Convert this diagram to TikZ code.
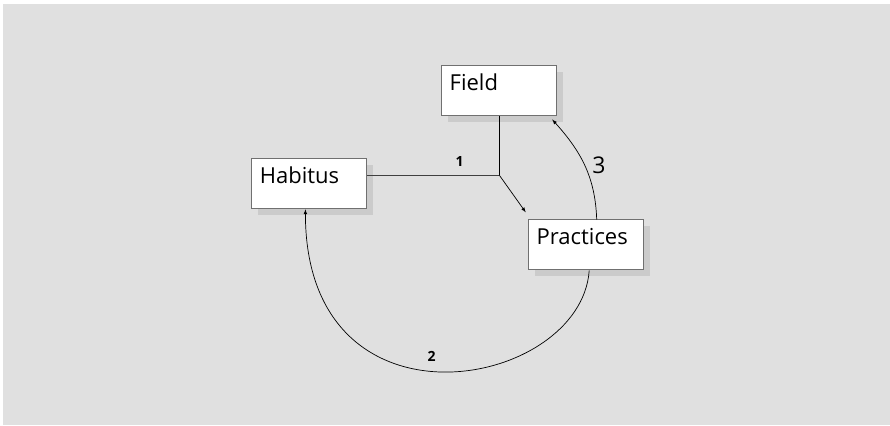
\documentclass[tikz,border=0pt]{standalone}
\usepackage{fontspec}
\setmainfont{Open Sans}
\usetikzlibrary{shadows}

\definecolor{panelgray}{HTML}{E0E0E0}
\definecolor{shadowgray}{HTML}{CBCBCB}
\definecolor{framegray}{HTML}{707070}

\tikzset{
  box/.style={draw=framegray, line width=1pt, fill=white,
    minimum width=115pt, minimum height=50pt, inner xsep=8pt,
    text width=99pt, align=left, text height=12pt, text depth=12pt,
    font=\fontsize{22}{22}\selectfont,
    drop shadow={shadow xshift=6pt, shadow yshift=-6pt, fill=shadowgray, opacity=1}},
  link/.style={line width=0.7pt},
  num/.style={font=\fontsize{14}{14}\selectfont\bfseries}
}

\begin{document}
\begin{tikzpicture}[x=1pt, y=1pt]
    % Background panel
    \fill[white] (0,0) rectangle (890,425);
    \fill[panelgray] (3,0) rectangle (890,421);
    \useasboundingbox (0,0) rectangle (890,425);

    % Boxes
    \node[box] (field) at (499.2,334) {Field};
    \node[box] (habitus) at (309.4,241.2) {Habitus};
    \node[box] (practices) at (586.2,180) {Practices};

    % Junction of field and habitus
    \coordinate (j) at (field.south |- 0,250);
    \coordinate (jend) at (525.7,212.7);
    \draw[link] (field.south) -- (j);
    \draw[link, draw=black!75] (habitus.east |- j) -- node[pos=.7, above=5pt, num] {1} (j);
    \draw[link, -latex] (j) -- (jend);

    % Practices back to field
    \draw[link, -latex] ([xshift=10.5pt]practices.north)
      to[out=92, in=-48, looseness=1] node[right=4pt, font=\fontsize{23}{23}\selectfont] {3} ([xshift=-5pt, yshift=-3pt]field.south east);

    % Practices back to habitus
    \draw[link, -latex] ([xshift=3pt]practices.south)
      to[out=-94, in=-90, out looseness=1.05, in looseness=2.05] node[pos=.53, above=6pt, num] {2} ([xshift=-4pt]habitus.south);
  \end{tikzpicture}
\end{document}
